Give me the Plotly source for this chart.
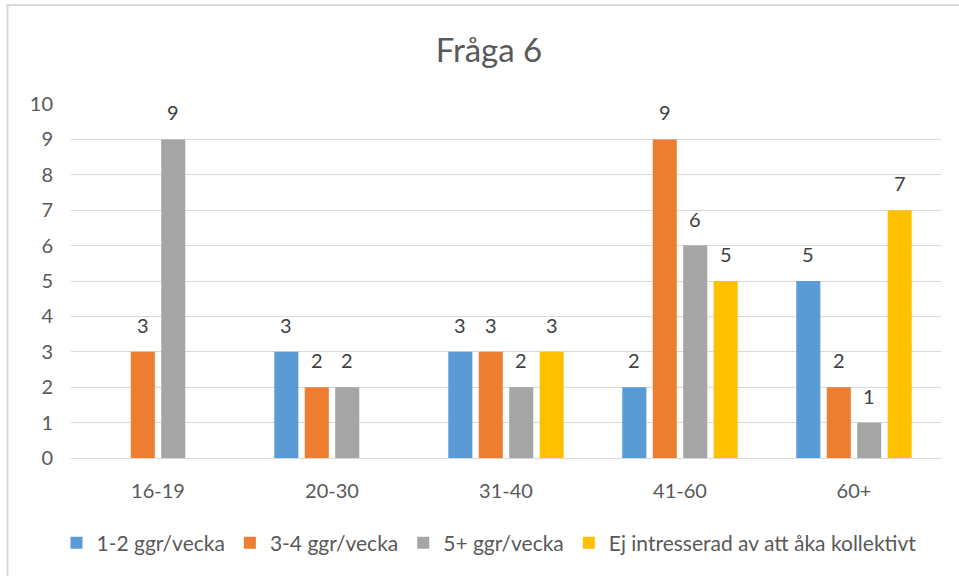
import plotly.graph_objects as go

categories = ["16-19", "20-30", "31-40", "41-60", "60+"]
series_names = ["1-2 ggr/vecka", "3-4 ggr/vecka", "5+ ggr/vecka", "Ej intresserad av att åka kollektivt"]
s1 = [None, 3, 3, 2, 5]
s2 = [3, 2, 3, 9, 2]
s3 = [9, 2, 2, 6, 1]
s4 = [None, None, 3, 5, 7]
colors = ["#5B9BD5", "#ED7D31", "#A5A5A5", "#FFC000"]
y_ticks = list(range(0, 11))

FONT = "Lato, Open Sans, sans-serif"
FS = 20

W, H = 959, 576
ml, mr, mt, mb = 71, 18, 104, 118
pw, ph = W - ml - mr, H - mt - mb
BARGAP, GROUPGAP = 0.30, 0.21
n_series = 4
slot_px = pw / len(categories) * (1 - BARGAP) / n_series

fig = go.Figure()
annotations = []
all_series = [s1, s2, s3, s4]
for i, (name, vals, col) in enumerate(zip(series_names, all_series, colors)):
    fig.add_trace(go.Bar(
        x=categories, y=vals, name=name, marker=dict(color=col, line=dict(width=0)),
    ))
    for c, v in zip(categories, vals):
        if v is None:
            continue
        annotations.append(dict(
            x=c, y=v, xref="x", yref="y", text=str(v), showarrow=False,
            xanchor="center", yanchor="bottom", yshift=13,
            xshift=(i - (n_series - 1) / 2) * slot_px,
            font=dict(family=FONT, size=FS, color="#404040"),
        ))

def px_x(p):
    return (p - ml) / pw

def px_y(p):
    return 1 - (p - mt) / ph

fig.update_layout(
    width=W, height=H,
    margin=dict(l=ml, r=mr, t=mt, b=mb, autoexpand=False),
    paper_bgcolor="white", plot_bgcolor="white",
    barmode="group", bargap=BARGAP, bargroupgap=GROUPGAP,
    title=dict(text="Fråga 6", x=489 / W, xanchor="center", y=1 - 50 / H, yanchor="middle",
               font=dict(family=FONT, size=33, color="#595959")),
    font=dict(family=FONT, color="#595959"),
    xaxis=dict(showgrid=False, showline=True, linecolor="#D9D9D9", linewidth=1, ticks="",
               tickfont=dict(family=FONT, size=FS, color="#595959"), ticklabelstandoff=15),
    yaxis=dict(range=[0, 10], tickvals=y_ticks, showgrid=True, gridcolor="#D9D9D9", gridwidth=1,
               zeroline=False, showline=False, ticks="",
               tickfont=dict(family=FONT, size=FS, color="#595959"), ticklabelstandoff=17),
    legend=dict(orientation="h", x=px_x(489), xanchor="center", y=px_y(543), yanchor="middle",
                font=dict(family=FONT, size=21, color="#595959"), itemwidth=30,
                traceorder="normal"),
    annotations=annotations,
    shapes=[
        dict(type="line", xref="paper", yref="paper", x0=px_x(6), x1=px_x(959), y0=px_y(5), y1=px_y(5),
             line=dict(color="#D9D9D9", width=2)),
        dict(type="line", xref="paper", yref="paper", x0=px_x(7.5), x1=px_x(7.5), y0=px_y(5), y1=px_y(576),
             line=dict(color="#D9D9D9", width=2)),
    ],
)

fig.write_html("out.html", config={"displayModeBar": False},
               post_script="document.body.style.margin='0';document.body.style.overflow='hidden';")
